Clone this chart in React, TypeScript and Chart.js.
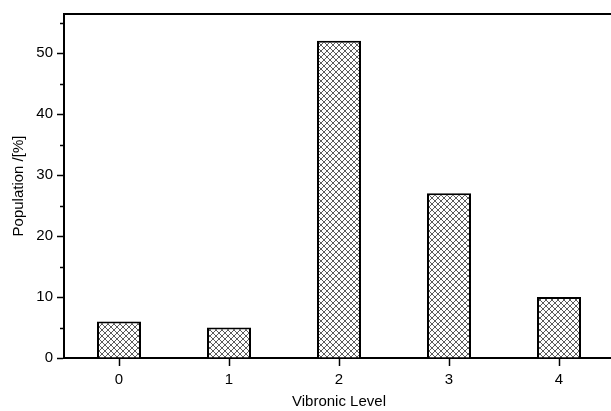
import React, { useEffect, useRef } from "react";
import { Chart, registerables } from "chart.js";

Chart.register(...registerables);

const levels = ["0", "1", "2", "3", "4"];
const population = [6, 5, 52, 27, 10];
const yMax = 56.4;
const majorStep = 10;
const minorTicks = [5, 15, 25, 35, 45, 55];

const FONT = "'Liberation Sans', Arial, sans-serif";

function makeHatch(): CanvasPattern | string {
  const s = 6;
  const tile = document.createElement("canvas");
  tile.width = s;
  tile.height = s;
  const c = tile.getContext("2d");
  if (!c) return "#bbb";
  c.fillStyle = "#ffffff";
  c.fillRect(0, 0, s, s);
  c.strokeStyle = "#4a4a4a";
  c.lineWidth = 0.9;
  c.beginPath();
  c.moveTo(0, 0);
  c.lineTo(s, s);
  c.moveTo(0, s);
  c.lineTo(s, 0);
  c.stroke();
  const p = c.createPattern(tile, "repeat");
  return p || "#bbb";
}

// Frame line along the top of the plot and short minor ticks on the value axis
const framePlugin = {
  id: "frame",
  afterDraw(chart: any) {
    const { ctx, chartArea, scales } = chart;
    ctx.save();
    ctx.strokeStyle = "#000";
    ctx.lineWidth = 2;
    ctx.beginPath();
    ctx.moveTo(chartArea.left - 1, chartArea.top);
    ctx.lineTo(chartArea.right + 1, chartArea.top);
    ctx.stroke();
    ctx.lineWidth = 1.5;
    const y = scales.y;
    minorTicks.forEach((v) => {
      const py = Math.round(y.getPixelForValue(v)) + 0.5;
      ctx.beginPath();
      ctx.moveTo(chartArea.left - 4, py);
      ctx.lineTo(chartArea.left, py);
      ctx.stroke();
    });
    ctx.restore();
  },
};

export default function App() {
  const ref = useRef<HTMLCanvasElement>(null);

  useEffect(() => {
    if (!ref.current) return;
    const hatch = makeHatch();
    const chart = new Chart(ref.current, {
      type: "bar",
      data: {
        labels: levels,
        datasets: [
          {
            data: population,
            backgroundColor: hatch as any,
            borderColor: "#000",
            borderWidth: 2,
            barPercentage: 0.4,
            categoryPercentage: 1,
          },
        ],
      },
      options: {
        responsive: false,
        animation: false,
        layout: { padding: { top: 14, right: 6, left: 0, bottom: 0 } },
        plugins: {
          legend: { display: false },
          tooltip: { enabled: false },
        },
        scales: {
          x: {
            grid: {
              display: true,
              drawOnChartArea: false,
              offset: false,
              tickLength: 8,
              tickColor: "#000",
              tickWidth: 1.5,
            },
            border: { display: true, color: "#000", width: 2 },
            ticks: {
              color: "#000",
              padding: 5,
              font: { family: FONT, size: 15 },
            },
            title: {
              display: true,
              text: "Vibronic Level",
              color: "#000",
              font: { family: FONT, size: 15 },
              padding: { top: 0, bottom: 0 },
            },
            afterFit(scale: any) {
              scale.height = 53;
            },
          },
          y: {
            min: 0,
            max: yMax,
            grid: {
              display: true,
              drawOnChartArea: false,
              tickLength: 7,
              tickColor: "#000",
              tickWidth: 1.5,
            },
            border: { display: true, color: "#000", width: 2 },
            ticks: {
              stepSize: majorStep,
              includeBounds: false,
              color: "#000",
              padding: 4,
              font: { family: FONT, size: 15 },
            },
            title: {
              display: true,
              text: "Population /[%]",
              color: "#000",
              font: { family: FONT, size: 15 },
              padding: { top: 10, bottom: 0 },
            },
            afterFit(scale: any) {
              scale.width = 64;
            },
          },
        },
      },
      plugins: [framePlugin],
    });
    return () => chart.destroy();
  }, []);

  return (
    <div
      style={{
        position: "fixed",
        left: 0,
        top: 0,
        width: 611,
        height: 411,
        overflow: "hidden",
        background: "#fff",
      }}
    >
      <canvas ref={ref} width={620} height={411} style={{ display: "block" }} />
    </div>
  );
}
